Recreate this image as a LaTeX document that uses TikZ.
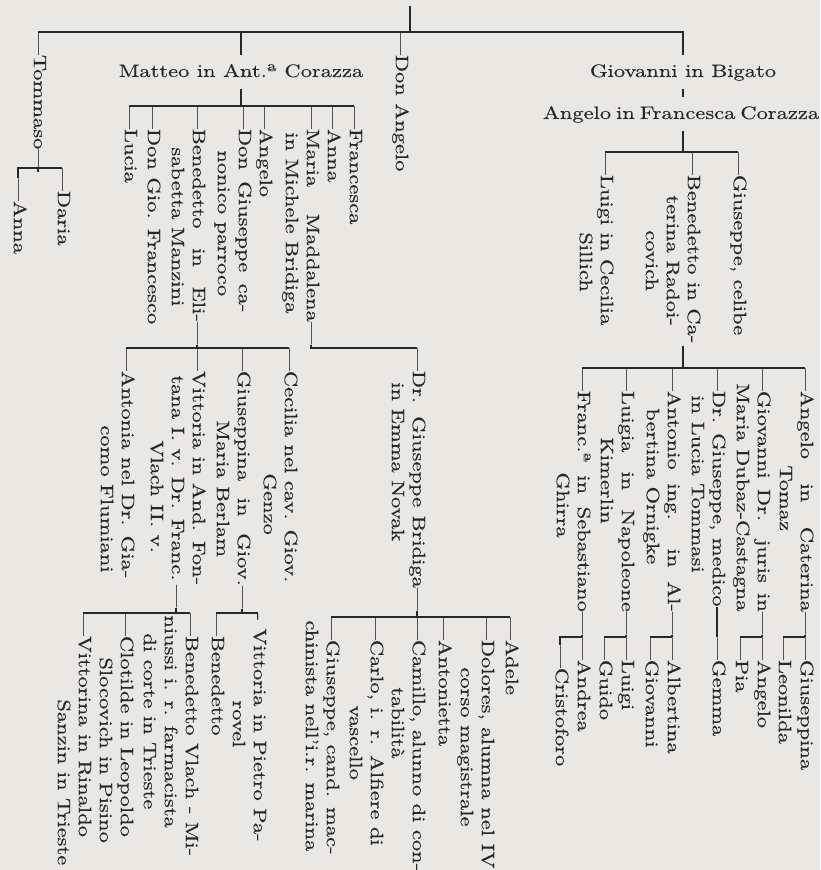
\documentclass[tikz,border=0pt]{standalone}
\usepackage{fontspec}
\setmainfont{lmroman10-regular.otf}[FakeStretch=1.25, FakeBold=0.3]

\definecolor{paper}{RGB}{234,232,226}
\definecolor{ink}{RGB}{40,40,40}
\newcommand{\famfont}{\fontsize{9pt}{10.5pt}\selectfont}

\tikzset{
  kid/.style={rotate=-90, anchor=west, inner sep=0pt, text=ink, font=\famfont},
  head/.style={anchor=base, inner sep=0pt, outer sep=4pt, text=ink, font=\famfont,
    text height=7pt, text depth=2pt},
  link/.style={draw=ink, line width=0.7pt},
}

\begin{document}
\begin{tikzpicture}[x=0.5pt, y=-0.5pt]
\fill[paper] (0,0) rectangle (820,870);
\useasboundingbox (0,0) rectangle (820,870);

% first generation
\coordinate (ttl) at (410,6);
\node[kid] (tom) at (38,32) {\strut—Tommaso—};
\node[head] (matteo) at (241,77) {Matteo in Ant.ª Corazza};
\node[kid] (donang) at (400,32) {\strut—Don Angelo};
\node[head] (giov) at (683,77) {Giovanni in Bigato};
\node[head] (angfc) at (677,119) {\makebox[134pt][s]{Angelo in Francesca Corazza}};
\draw[link] (tom.west) -| (giov.north);
\draw[link] (ttl) -- (ttl |- tom.west);
\draw[link] (matteo.north |- tom.west) -- (matteo.north);
\draw[link] (giov.south) -- (giov.south |- angfc.north);

% Tommaso
\node[kid] (daria) at (62,168) {\strut—Daria};
\node[kid] (anna) at (18,178) {\strut—Anna};
\draw[link] (tom.east) -- (tom.east |- daria.west);
\draw[link] (daria.west) -| (anna.west);

% Matteo
\node[kid] (fran) at (354,106) {\strut—Francesca};
\node[kid] (anna2) at (332,106) {\strut—Anna};
\node[kid] (mmad) at (311,106) {\strut\makebox[119pt][s]{—Maria Maddalena—}};
\node[kid] (mmad-2) at ([xshift=-10.5pt,yshift=-13pt]mmad.west) {\strut in Michele Bridiga};
\node[kid] (ang2) at (264,106) {\strut—Angelo};
\node[kid] (dgiu) at (243,106) {\strut\makebox[103pt][s]{—Don Giuseppe ca-}};
\node[kid] (dgiu-2) at ([xshift=-10.5pt,yshift=-22pt]dgiu.west) {\strut nonico parroco};
\node[kid] (bened) at (197,106) {\strut\makebox[119pt][s]{—Benedetto in Eli-—}};
\node[kid] (bened-2) at ([xshift=-10.5pt,yshift=-20.5pt]bened.west) {\strut sabetta Manzini};
\node[kid] (dgio) at (152,106) {\strut—Don Gio. Francesco};
\node[kid] (lucia) at (129,106) {\strut—Lucia};
\draw[link] (matteo.south) -- (matteo.south |- fran.west);
\draw[link] (lucia.west) -- (fran.west);

% Benedetto in Elisabetta Manzini
\node[kid] (cec) at (289,348) {\strut—Cecilia nel cav. Giov.};
\node[kid] (cec-2) at ([xshift=-10.5pt,yshift=-62.5pt]cec.west) {\strut Genzo};
\node[kid] (gsp) at (242,348) {\strut\makebox[130pt][s]{—Giuseppina in Giov.—}};
\node[kid] (gsp-2) at ([xshift=-10.5pt,yshift=-36pt]gsp.west) {\strut Maria Berlam};
\node[kid] (vit) at (197,348) {\strut—Vittoria in And. Fon-};
\node[kid] (vit-2) at ([xshift=-10.5pt,yshift=-13.5pt]vit.west) {\strut\makebox[116pt][s]{tana I. v. Dr. Franc.\hfill—}};
\node[kid] (vit-3) at ([xshift=-10.5pt,yshift=-32.5pt]vit-2.west) {\strut Vlach II. v.};
\node[kid] (anton) at (126,348) {\strut—Antonia nel Dr. Gia-};
\node[kid] (anton-2) at ([xshift=-10.5pt,yshift=-38.5pt]anton.west) {\strut como Flumiani};
\draw[link] (bened.east) -- (bened.east |- cec.west);
\draw[link] (anton.west) -- (cec.west);

% Maria Maddalena in Michele Bridiga
\node[kid] (drbr) at (417,348) {\strut\makebox[131pt][s]{—Dr. Giuseppe Bridiga—}};
\node[kid] (drbr-2) at ([xshift=-10.5pt,yshift=-17pt]drbr.west) {\strut in Emma Novak};
\draw[link] (mmad.east) |- (drbr.west);

% Dr. Giuseppe Bridiga
\node[kid] (adele) at (510,617) {\strut—Adele};
\node[kid] (dolo) at (486,617) {\strut—Dolores, alumna nel IV};
\node[kid] (dolo-2) at ([xshift=-10.5pt,yshift=-25pt]dolo.west) {\strut corso magistrale};
\node[kid] (antta) at (443,617) {\strut—Antonietta};
\node[kid] (cam) at (417,617) {\strut—Camillo, alunno di con-};
\node[kid] (cam-2) at ([xshift=-10.5pt,yshift=-35pt]cam.west) {\strut tabilità};
\node[kid] (carlo) at (375,617) {\strut—Carlo, i. r. Alfiere di};
\node[kid] (carlo-2) at ([xshift=-10.5pt,yshift=-44pt]carlo.west) {\strut vascello};
\node[kid] (gcand) at (331,617) {\strut—Giuseppe, cand. mac-};
\node[kid] (gcand-2) at ([xshift=-10.5pt,yshift=-1.5pt]gcand.west) {\strut chinista nell'i.r. marina};
\draw[link] (drbr.east) -- (drbr.east |- adele.west);
\draw[link] (gcand.west) -- (adele.west);

% Giuseppina in Giov. Maria Berlam
\node[kid] (vpar) at (258,613) {\strut- Vittoria in Pietro Pa-};
\node[kid] (vpar-2) at ([xshift=-10.5pt,yshift=-43.5pt]vpar.west) {\strut rovel};
\node[kid] (bene3) at (216,613) {\strut—Benedetto};
\draw[link] (gsp.east) -- (gsp.east |- vpar.west);
\draw[link] (bene3.west) -- (vpar.west);

% Vittoria in And. Fontana
\node[kid] (bvl) at (190,613) {\strut—Benedetto Vlach - Mi-};
\node[kid] (bvl-2) at ([xshift=-10.5pt,yshift=-1pt]bvl.west) {\strut niussi i. r. farmacista};
\node[kid] (bvl-3) at ([xshift=-10.5pt,yshift=-9pt]bvl-2.west) {\strut di corte in Trieste};
\node[kid] (clot) at (125,613) {\strut—Clotilde in Leopoldo};
\node[kid] (clot-2) at ([xshift=-10.5pt,yshift=-22pt]clot.west) {\strut Slocovich in Pisino};
\node[kid] (vtna) at (83,613) {\strut—Vittorina in Rinaldo};
\node[kid] (vtna-2) at ([xshift=-10.5pt,yshift=-43pt]vtna.west) {\strut Sanzin in Trieste};
\draw[link] (vit-2.east) -- (vit-2.east |- bvl.west);
\draw[link] (vtna.west) -- (bvl.west);

% Angelo in Francesca Corazza
\node[kid] (gcel) at (738,152) {\strut—Giuseppe, celibe};
\node[kid] (bcat) at (692,152) {\strut—Benedetto in Ca-};
\node[kid] (bcat-2) at ([xshift=-10.5pt,yshift=-21.5pt]bcat.west) {\strut terina Radoi-};
\node[kid] (bcat-3) at ([xshift=-10.5pt,yshift=-17.5pt]bcat-2.west) {\strut covich};
\node[kid] (lsil) at (605,152) {\strut—Luigi in Cecilia};
\node[kid] (lsil-2) at ([xshift=-10.5pt,yshift=-40pt]lsil.west) {\strut Sillich};
\draw[link] (giov.south |- angfc.south) -- (giov.south |- gcel.west);
\draw[link] (lsil.west) -- (gcel.west);

% Benedetto in Caterina Radoicovich
\coordinate (bcat-end) at (683,346);
\node[kid] (bang) at (805,368) {\strut\makebox[133pt][s]{—Angelo in Caterina—}};
\node[kid] (bang-2) at ([xshift=-10.5pt,yshift=-48.5pt]bang.west) {\strut Tomaz};
\node[kid] (bgio) at (762,368) {\strut\makebox[133pt][s]{—Giovanni Dr. juris in—}};
\node[kid] (bgio-2) at ([xshift=-10.5pt,yshift=-7.5pt]bgio.west) {\strut Maria Dubaz-Castagna};
\node[kid] (bgiu) at (717,368) {\strut—Dr. Giuseppe, medico};
\node[kid] (bgiu-2) at ([xshift=-10.5pt,yshift=-13.5pt]bgiu.west) {\strut in Lucia Tommasi};
\node[kid] (bant) at (672,368) {\strut\makebox[133pt][s]{—Antonio ing. in Al-—}};
\node[kid] (bant-2) at ([xshift=-10.5pt,yshift=-20pt]bant.west) {\strut bertina Ornigke};
\node[kid] (blui) at (626,368) {\strut\makebox[133pt][s]{—Luigia in Napoleone—}};
\node[kid] (blui-2) at ([xshift=-10.5pt,yshift=-34.5pt]blui.west) {\strut Kimerlin};
\node[kid] (bfra) at (582,368) {\strut\makebox[133pt][s]{—Franc.ª in Sebastiano—}};
\node[kid] (bfra-2) at ([xshift=-10.5pt,yshift=-52pt]bfra.west) {\strut Ghirra};
\draw[link] (bcat-end) -- (bcat-end |- bang.west);
\draw[link] (bfra.west) -- (bang.west);

% grandchildren of Benedetto
\node[kid] (gpina) at (805,637) {\strut—Giuseppina};
\node[kid] (leon) at (783,637) {\strut—Leonilda};
\draw[link] (bang.east) -- (bang.east |- gpina.west);
\draw[link] (leon.west) -- (gpina.west);
\node[kid] (ang4) at (762,637) {\strut—Angelo};
\node[kid] (pia) at (740,637) {\strut—Pia};
\node[kid] (gemma) at (717,637) {\strut—Gemma};
\draw[link] (bgio.east) -- (bgio.east |- ang4.west);
\draw[link] (pia.west) -- (ang4.west);
\draw[link] (bgiu.east) -- (gemma.west);
\node[kid] (albt) at (672,637) {\strut—Albertina};
\node[kid] (giov2) at (650,637) {\strut—Giovanni};
\draw[link] (bant.east) -- (bant.east |- albt.west);
\draw[link] (giov2.west) -- (albt.west);
\node[kid] (luigi) at (626,637) {\strut—Luigi};
\node[kid] (guido) at (604,637) {\strut—Guido};
\draw[link] (blui.east) -- (blui.east |- luigi.west);
\draw[link] (guido.west) -- (luigi.west);
\node[kid] (andr) at (582,637) {\strut—Andrea};
\node[kid] (cris) at (560,645) {\strut—Cristoforo};
\draw[link] (bfra.east) -- (bfra.east |- andr.west);
\draw[link] (andr.west) -| (cris.west);
\end{tikzpicture}
\end{document}
